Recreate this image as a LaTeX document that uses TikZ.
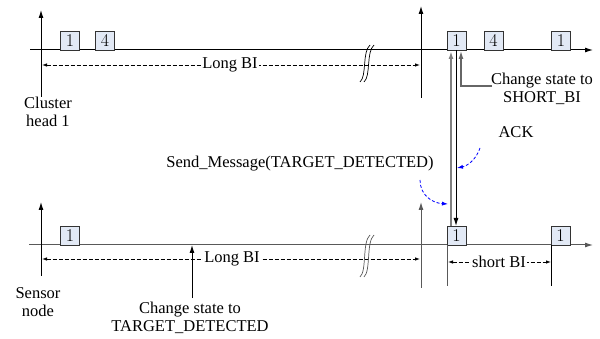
\documentclass[tikz,border=0pt]{standalone}
\usepackage{fontspec}
\newfontfamily\tnr{Liberation Serif}
\usetikzlibrary{arrows.meta}
\definecolor{boxfill}{RGB}{226,233,245}
\begin{document}
\begin{tikzpicture}[x=1pt,y=-1pt,
  lbl/.style={font=\tnr\fontsize{16.5}{18}\selectfont, inner sep=1pt, align=center},
  box/.style={draw=black!80, fill=boxfill, minimum width=19pt, minimum height=19pt, inner sep=0pt, font=\fontsize{18}{18}\selectfont, line width=0.8pt},
  axis/.style={line width=1pt, -{Latex[length=8pt,width=5pt]}},
  plain/.style={line width=1pt},
  dim/.style={line width=0.8pt, dash pattern=on 4pt off 2pt, {Latex[length=5pt,width=3.5pt]}-{Latex[length=5pt,width=3.5pt]}},
  brk/.style={line width=0.7pt},
  blu/.style={blue, line width=0.8pt, dash pattern=on 3pt off 2pt, -{Latex[length=6pt,width=4pt]}},
  gr/.style={draw=black!65}
]
\useasboundingbox (0,0) rectangle (600,339);
% ---------- cluster head ----------
\coordinate (tl) at (30,50); \coordinate (tr) at (593,50);
\coordinate (chA) at (41,10); \coordinate (chB) at (41,97);
\coordinate (ch2A) at (421,6); \coordinate (ch2B) at (421,98);
\draw[axis] (tl) -- (tr);
\draw[axis] (chB) -- (chA);
\draw[axis] (ch2B) -- (ch2A);
\node[box] (t1) at (70,40.5) {1};
\node[box] (t4) at (105,40.5) {4};
\node[box] (t5) at (456.5,40.5) {1};
\node[box] (t6) at (493.5,40.5) {4};
\node[box] (t7) at (561,40.5) {1};
\coordinate (tdL) at (42,65); \coordinate (tdR) at (420,65);
\draw[dim] (tdL) -- (tdR);
\node[lbl, fill=white] (tlong) at (230,65) {Long BI};
\node[lbl] (ch) at (48,112) {Cluster\\head 1};
% break top
\draw[brk] (360,82) .. controls (367,76) and (362,52) .. (370,45);
\draw[brk] (364,82) .. controls (371,76) and (366,52) .. (374,45);
% ---------- sensor node ----------
\coordinate (bl) at (29,245); \coordinate (br) at (593,245);
\coordinate (snA) at (41,202); \coordinate (snB) at (41,276);
\coordinate (sn2A) at (421,202); \coordinate (sn2B) at (421,288);
\draw[axis, gr] (bl) -- (br);
\draw[axis] (snB) -- (snA);
\draw[axis, gr] (sn2B) -- (sn2A);
\node[box] (b1) at (70,236) {1};
\node[box] (b2) at (456.5,236) {1};
\node[box] (b3) at (560.5,236) {1};
\coordinate (bdL) at (42,259); \coordinate (bdR) at (420,259);
\draw[dim] (bdL) -- (bdR);
\node[lbl, fill=white] (blong) at (232,259) {Long BI};
\node[lbl] (sn) at (38,302) {Sensor\\node};
% break bottom
\draw[brk, gr] (360,277) .. controls (367,271) and (362,242) .. (370,235);
\draw[brk, gr] (364,277) .. controls (371,271) and (366,242) .. (374,235);
% target detected
\coordinate (tdA) at (192,245); \coordinate (tdB) at (192,298);
\draw[axis] (tdB) -- (tdA);
\node[lbl] (tdl) at (190,318) {Change state to\\TARGET\_DETECTED};
% short BI
\coordinate (s1a) at (447,245); \coordinate (s1b) at (447,286);
\coordinate (s2a) at (551,245); \coordinate (s2b) at (551,286);
\draw[plain, gr] (s1a) -- (s1b);
\draw[plain] (s2a) -- (s2b);
\coordinate (sdL) at (448,262); \coordinate (sdR) at (551,262);
\draw[dim] (sdL) -- (sdR);
\node[lbl, fill=white] (sbi) at (499,262) {short BI};
% ---------- messages ----------
\coordinate (mUp) at (451,51); \coordinate (mUpB) at (451,226.5);
\draw[line width=2pt, black!50, -{Latex[length=8pt,width=5pt]}] (mUpB) -- (mUp);
\coordinate (ackA) at (456,50); \coordinate (ackB) at (456,226);
\draw[plain, -{Latex[length=8pt,width=5pt]}] (ackA) -- (ackB);
\coordinate (csA) at (461,51); \coordinate (csB) at (492,86);
\draw[line width=1.2pt, black!60, -{Latex[length=8pt,width=5pt]}] (csB) -- (461,86) -- (csA);
\node[lbl] (csl) at (542,89) {Change state to\\SHORT\_BI};
\node[lbl] (ack) at (516,132) {ACK};
\node[lbl] (send) at (300,164) {Send\_Message(TARGET\_DETECTED)};
\coordinate (a1) at (480,148); \coordinate (a2) at (457,168);
\draw[blu] (a1) .. controls (476,160) and (467,166) .. (a2);
\coordinate (s1) at (420,180); \coordinate (s2) at (448,204);
\draw[blu] (s1) .. controls (420,195) and (432,203) .. (s2);
\end{tikzpicture}
\end{document}
